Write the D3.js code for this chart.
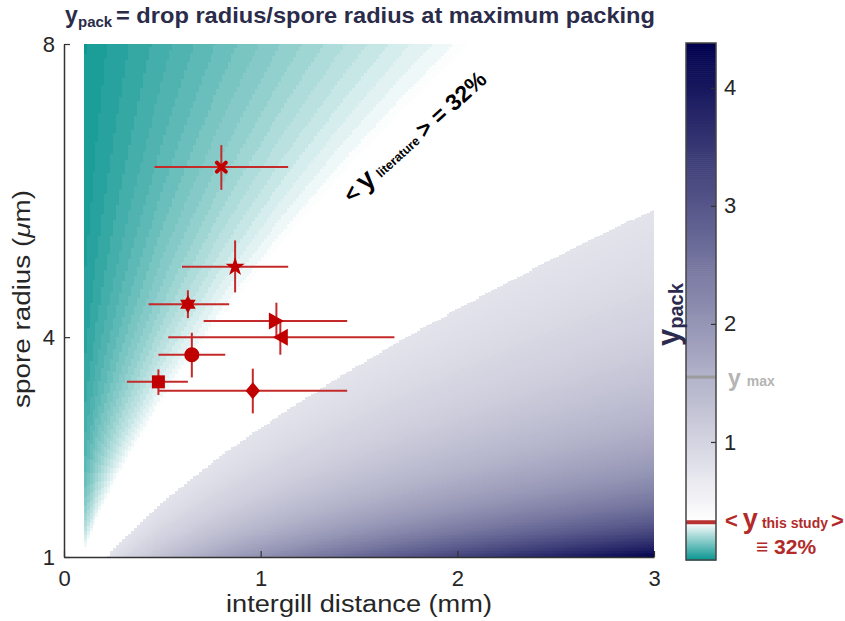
<!DOCTYPE html>
<html>
<head>
<meta charset="utf-8">
<script src="https://cdn.jsdelivr.net/npm/d3@7"></script>
<style>
  body { margin: 0; background: #fff; }
  svg { display: block; font-family: "Liberation Sans", Arial, Helvetica, sans-serif; }
</style>
</head>
<body>
<svg id="chart" width="845" height="621"></svg>
<script>
// ---- measured species: intergill distance (mm) and spore radius (µm) with ranges ----
const markerShapes   = ["x", "star", "hexagram", "triangleRight", "triangleLeft", "circle", "square", "diamond"];
const intergillMean  = [0.80, 0.87, 0.63, 1.08, 1.10, 0.65, 0.48, 0.96];
const intergillLow   = [0.46, 0.60, 0.43, 0.71, 0.53, 0.48, 0.32, 0.48];
const intergillHigh  = [1.14, 1.14, 0.84, 1.44, 1.68, 0.82, 0.63, 1.44];
const sporeMean      = [6.32, 4.96, 4.45, 4.22, 4.00, 3.76, 3.39, 3.27];
const sporeLow       = [6.01, 4.61, 4.26, 3.98, 3.76, 3.45, 3.21, 2.96];
const sporeHigh      = [6.62, 5.32, 4.64, 4.47, 4.24, 4.06, 3.56, 3.57];

// ---- axis ticks ----
const xTicks = [0, 1, 2, 3];
const yTicks = [1, 4, 8];
const colorTicks = [1, 2, 3, 4];

// ---- packing-ratio field parameters ----
const yStudy = 0.32;        // < y this study >
const yMax = 1.55;          // y max marker on the colour bar
const yPackTop = 4.38;      // top of the colour scale
const lowCoef = 4.94;       // spore radius (µm) of the y = yStudy contour at 1 mm
const highCoef = 2.76;      // spore radius (µm) of the upper branch edge at 1 mm
const highEdgeValue = 0.76; // y_pack along the upper branch edge
const gridStart = [0.1, 1];     // first cell (mm, µm)
const gridEnd = [3, 8];         // last cell  (mm, µm)
const gridStep = [0.015, 0.02]; // cell size  (mm, µm)
const colorLevels = 256;
const tealEnd = "#07948f";
const navyEnd = "#00004e";

const svg = d3.select("#chart");
const W = 845, H = 621;

// main plot scales
const x = d3.scaleLinear().domain([0, 3]).range([64, 654]);
const y = d3.scaleLinear().domain([1, 8]).range([557, 44]);
// colour bar scale
const cb = { x0: 686, x1: 716 };
const cbY = d3.scaleLinear().domain([0, yPackTop]).range([560, 43]);

// discrete colour map: teal -> white below yStudy, white -> navy above
const levelStep = yPackTop / colorLevels;
const tealInterp = d3.interpolateRgb(tealEnd, "#ffffff");
const navyInterp = d3.interpolateRgb("#ffffff", navyEnd);
function levelColor(i) {
  const v = (i + 0.5) * levelStep;
  if (v < yStudy) return tealInterp(v / yStudy);
  return navyInterp((v - yStudy) / (yPackTop - yStudy));
}
const palette = d3.range(colorLevels).map(levelColor);
function colorOf(v) {
  const i = Math.max(0, Math.min(colorLevels - 1, Math.floor(v / levelStep)));
  return palette[i];
}

// y_pack as a function of intergill distance d and spore radius r
const uLow = Math.pow(lowCoef, -1.5);
const uHigh = Math.pow(highCoef, -1.5);
function yPack(d, r) {
  const u = d / Math.pow(r, 1.5);
  if (u <= uLow) return yStudy * u / uLow;
  if (u >= uHigh) return highEdgeValue * Math.pow(u / uHigh, 2 / 3);
  return NaN;
}

// ---- heat map raster ----
const canvas = document.createElement("canvas");
canvas.width = W; canvas.height = H;
const ctx = canvas.getContext("2d");
const img = ctx.createImageData(W, H);
const px0 = Math.round(x(gridStart[0])), px1 = Math.round(x(gridEnd[0]));
const py0 = Math.round(y(gridEnd[1])), py1 = Math.round(y(gridStart[1]));
const rgbCache = palette.map(c => d3.rgb(c));
for (let py = py0; py < py1; py++) {
  const r = y.invert(py + 0.5);
  const rq = gridStart[1] + (Math.floor((r - gridStart[1]) / gridStep[1]) + 0.5) * gridStep[1];
  for (let px = px0; px < px1; px++) {
    const d = x.invert(px + 0.5);
    const dq = gridStart[0] + (Math.floor((d - gridStart[0]) / gridStep[0]) + 0.5) * gridStep[0];
    const v = yPack(dq, rq);
    if (isNaN(v)) continue;
    const i = Math.max(0, Math.min(colorLevels - 1, Math.floor(v / levelStep)));
    const c = rgbCache[i];
    const k = (py * W + px) * 4;
    img.data[k] = c.r; img.data[k + 1] = c.g; img.data[k + 2] = c.b; img.data[k + 3] = 255;
  }
}
ctx.putImageData(img, 0, 0);
svg.append("image")
  .attr("x", 0).attr("y", 0).attr("width", W).attr("height", H)
  .attr("href", canvas.toDataURL("image/png"));

// ---- axes ----
const axisColor = "#333333";
const gx = svg.append("g")
  .attr("transform", `translate(0,${y(1)})`)
  .call(d3.axisBottom(x).tickValues(xTicks).tickFormat(d3.format("d"))
    .tickSizeInner(-6).tickSizeOuter(0).tickPadding(13));
const gy = svg.append("g")
  .attr("transform", `translate(${x(0)},0)`)
  .call(d3.axisLeft(y).tickValues(yTicks).tickFormat(d3.format("d"))
    .tickSizeInner(-6).tickSizeOuter(0).tickPadding(9));
[gx, gy].forEach(g => {
  g.select(".domain").attr("stroke", axisColor).attr("stroke-width", 1.5);
  g.selectAll(".tick line").attr("stroke", axisColor).attr("stroke-width", 1.2);
  g.selectAll(".tick text").attr("fill", "#262626").style("font-size", "22px")
    .style("font-family", "'Liberation Sans', Arial, sans-serif");
});

// axis titles
svg.append("text")
  .attr("x", 359).attr("y", 612)
  .attr("text-anchor", "middle")
  .attr("fill", "#262626").style("font-size", "23px")
  .attr("textLength", 266).attr("lengthAdjust", "spacingAndGlyphs")
  .text("intergill distance (mm)");
const ylab = svg.append("text")
  .attr("transform", "translate(30,299) rotate(-90)")
  .attr("text-anchor", "middle")
  .attr("fill", "#262626").style("font-size", "23px")
  .attr("textLength", 218).attr("lengthAdjust", "spacingAndGlyphs");
ylab.append("tspan").text("spore radius (");
ylab.append("tspan").style("font-style", "italic").text("\u03BC");
ylab.append("tspan").text("m)");

// ---- title ----
const titleColor = "#2b2b4a";
svg.append("text").attr("x", 65).attr("y", 23)
  .attr("fill", titleColor).style("font-size", "23px").style("font-weight", "bold").text("y");
svg.append("text").attr("x", 78).attr("y", 27)
  .attr("fill", titleColor).style("font-size", "15px").style("font-weight", "bold").text("pack");
svg.append("text").attr("x", 116).attr("y", 23)
  .attr("fill", titleColor).style("font-size", "22px").style("font-weight", "bold")
  .attr("textLength", 539).attr("lengthAdjust", "spacingAndGlyphs")
  .text("= drop radius/spore radius at maximum packing");

// ---- error bars and markers ----
const barColor = "#c42a2a";
const markColor = "#c00000";
const pts = markerShapes.map((s, i) => ({
  shape: s, d: intergillMean[i], dl: intergillLow[i], dh: intergillHigh[i],
  r: sporeMean[i], rl: sporeLow[i], rh: sporeHigh[i]
}));
const gBars = svg.append("g");
pts.forEach(p => {
  gBars.append("line").attr("x1", x(p.dl)).attr("x2", x(p.dh)).attr("y1", y(p.r)).attr("y2", y(p.r))
    .attr("stroke", barColor).attr("stroke-width", 2);
  gBars.append("line").attr("x1", x(p.d)).attr("x2", x(p.d)).attr("y1", y(p.rl)).attr("y2", y(p.rh))
    .attr("stroke", barColor).attr("stroke-width", 2);
});
function hexagram(R) {
  const pts6 = [];
  const ri = R / Math.sqrt(3);
  for (let k = 0; k < 12; k++) {
    const a = -Math.PI / 2 + k * Math.PI / 6;
    const rr = k % 2 === 0 ? R : ri;
    pts6.push([rr * Math.cos(a), rr * Math.sin(a)]);
  }
  return "M" + pts6.map(p => p.join(",")).join("L") + "Z";
}
const shapePath = {
  star: d3.symbol(d3.symbolStar, 115)(),
  hexagram: hexagram(9),
  triangleRight: "M7.5,0L-7.5,-8.5L-7.5,8.5Z",
  triangleLeft: "M-7.5,0L7.5,-8.5L7.5,8.5Z",
  circle: d3.symbol(d3.symbolCircle, 180)(),
  square: "M-6.5,-6.5H6.5V6.5H-6.5Z",
  diamond: "M0,-8.5L7.2,0L0,8.5L-7.2,0Z"
};
const gMarks = svg.append("g");
pts.forEach(p => {
  const t = `translate(${x(p.d)},${y(p.r)})`;
  if (p.shape === "x") {
    gMarks.append("path").attr("transform", t).attr("d", "M-4.5,-4.5L4.5,4.5M4.5,-4.5L-4.5,4.5")
      .attr("stroke", markColor).attr("stroke-width", 4).attr("stroke-linecap", "round").attr("fill", "none");
  } else {
    gMarks.append("path").attr("transform", t).attr("d", shapePath[p.shape]).attr("fill", markColor);
  }
});

// ---- literature annotation along the contour ----
const lit = svg.append("text")
  .attr("transform", "translate(352,204) rotate(-42)")
  .attr("fill", "#000").style("font-weight", "bold");
lit.append("tspan").style("font-size", "23px").text("<");
lit.append("tspan").style("font-size", "28px").attr("dx", 5).text("y");
lit.append("tspan").style("font-size", "12.5px").attr("dx", 5).text("literature");
lit.append("tspan").style("font-size", "23px").attr("dx", 5).text("> = 32%");

// ---- colour bar ----
const gcb = svg.append("g");
gcb.selectAll("rect.lvl").data(palette).join("rect")
  .attr("class", "lvl")
  .attr("x", cb.x0).attr("width", cb.x1 - cb.x0)
  .attr("y", (c, i) => cbY((i + 1) * levelStep))
  .attr("height", (c, i) => cbY(i * levelStep) - cbY((i + 1) * levelStep) + 0.6)
  .attr("fill", c => c);
// y max and this-study markers on the bar
gcb.append("line").attr("x1", cb.x0).attr("x2", cb.x1).attr("y1", cbY(yMax)).attr("y2", cbY(yMax))
  .attr("stroke", "#9c9c9c").attr("stroke-width", 3);
gcb.append("line").attr("x1", cb.x0).attr("x2", cb.x1).attr("y1", cbY(yStudy)).attr("y2", cbY(yStudy))
  .attr("stroke", "#b83232").attr("stroke-width", 4);
gcb.append("rect").attr("x", cb.x0).attr("y", cbY(yPackTop)).attr("width", cb.x1 - cb.x0)
  .attr("height", cbY(0) - cbY(yPackTop)).attr("fill", "none").attr("stroke", "#444").attr("stroke-width", 1.5);
const gcbAxis = svg.append("g").attr("transform", `translate(${cb.x1},0)`)
  .call(d3.axisRight(cbY).tickValues(colorTicks).tickFormat(d3.format("d"))
    .tickSizeInner(-5).tickSizeOuter(0).tickPadding(8));
gcbAxis.select(".domain").remove();
gcbAxis.selectAll(".tick line").attr("stroke", "#333").attr("stroke-width", 1.2);
gcbAxis.selectAll(".tick text").attr("fill", "#262626").style("font-size", "22px");

// colour bar title
const cbt = svg.append("text")
  .attr("transform", "translate(679,346) rotate(-90)")
  .attr("fill", "#2b2b4f").style("font-weight", "bold");
cbt.append("tspan").style("font-size", "31px").text("y");
cbt.append("tspan").style("font-size", "20px").attr("dy", 4).text("pack");

// y max label
const ymx = svg.append("text").attr("x", 728).attr("y", 386).attr("fill", "#b4b4b4").style("font-weight", "bold");
ymx.append("tspan").style("font-size", "23px").text("y");
ymx.append("tspan").style("font-size", "14px").attr("dx", 6).text("max");

// this-study label
const ts = svg.append("text").attr("x", 725).attr("y", 528).attr("fill", "#b22a2a").style("font-weight", "bold");
ts.append("tspan").style("font-size", "22px").text("<");
ts.append("tspan").style("font-size", "27px").attr("dx", 5).text("y");
ts.append("tspan").style("font-size", "14px").attr("dx", 4).text("this study");
ts.append("tspan").style("font-size", "22px").attr("dx", 3).text(">");
svg.append("text").attr("x", 786).attr("y", 554).attr("text-anchor", "middle")
  .attr("fill", "#b22a2a").style("font-weight", "bold").style("font-size", "21px")
  .text("\u2261 32%");
</script>
</body>
</html>
